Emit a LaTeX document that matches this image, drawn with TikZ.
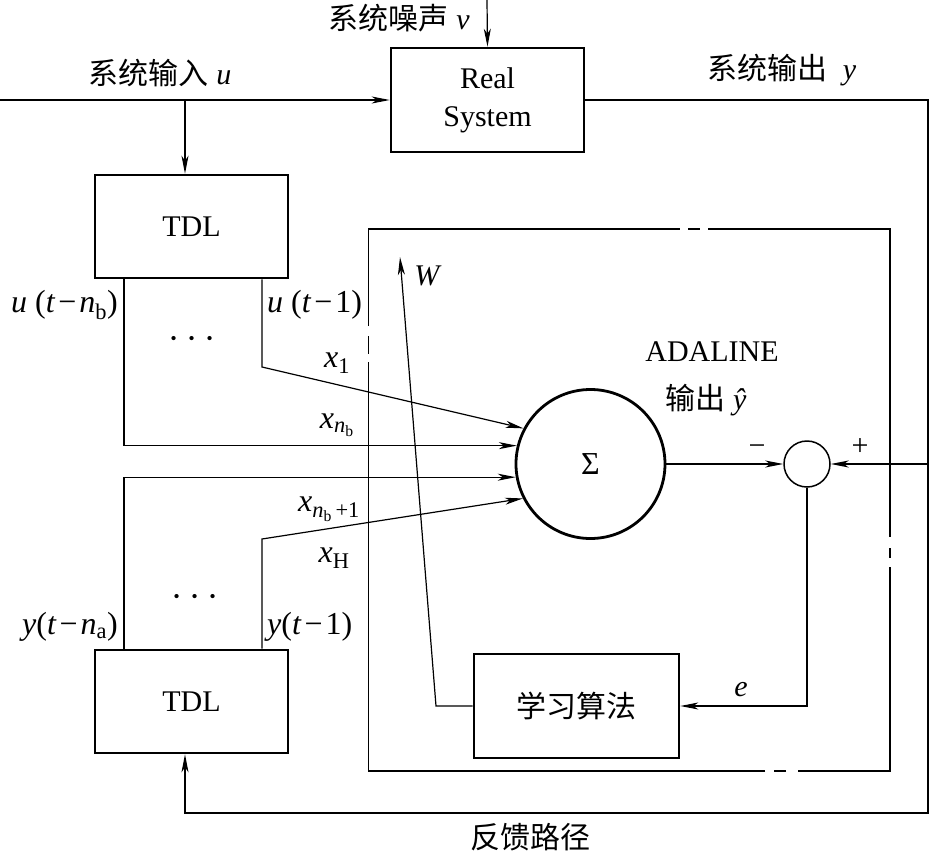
\documentclass[tikz,border=0pt]{standalone}
\usepackage{graphicx}
\usepackage{fontspec}
\setmainfont{Liberation Serif}
\newfontfamily\cjk{Noto Sans CJK SC}
\usetikzlibrary{arrows.meta}
\newcommand\cx[1]{{\cjk\fontsize{30}{34}\selectfont #1}}
\newcommand\mi[1]{\textit{#1}}
\newcommand\sub[1]{\textsubscript{#1}}
\newcommand\mminus{\kern3pt−\kern3pt}
\begin{document}
\begin{tikzpicture}[x=1pt,y=-1pt,
  lbl/.style={inner sep=0pt, font=\fontsize{30}{34}\selectfont},
  mlbl/.style={inner sep=0pt, font=\fontsize{32}{34}\selectfont},
  blk/.style={draw, line width=2.6pt, inner sep=0pt, font=\fontsize{30}{38}\selectfont, align=center},
  arr/.style={line width=1.2pt, -{Stealth[length=18pt,width=7pt,inset=5pt]}},
  frame/.style={line width=1.5pt}
]
\useasboundingbox (0,0) rectangle (930,852);

% blocks
\node[blk, minimum width=193pt, minimum height=104pt] (rs) at (487.5,100) {Real\\System};
\node[blk, minimum width=193pt, minimum height=103pt] (tdl1) at (191.5,226.5) {TDL};
\node[blk, minimum width=193pt, minimum height=103pt] (tdl2) at (191.5,701.5) {TDL};
\node[blk, minimum width=205pt, minimum height=104pt] (learn) at (576.5,706) {\cx{学习算法}};
\node[draw, circle, line width=2.8pt, minimum size=149pt, inner sep=0pt, font=\fontsize{32}{34}\selectfont] (sigma) at (590.5,464) {Σ};
\node[draw, circle, line width=1.5pt, minimum size=46pt, inner sep=0pt] (cmp) at (807,464) {};

% ADALINE frame (with small gaps)
\draw[frame] (368.5,326) -- (368.5,229) -- (680,229);
\draw[frame] (688,229) -- (700,229);
\draw[frame] (708,229) -- (890,229) -- (890,537);
\draw[frame] (890,548) -- (890,558);
\draw[frame] (890,567) -- (890,771) -- (798,771);
\draw[frame] (786,771) -- (774,771);
\draw[frame] (765,771) -- (368.5,771) -- (368.5,362);
\draw[frame] (368.5,336) -- (368.5,354);

% coordinates
\coordinate (inL) at (0,100);
\coordinate (br) at (185,100);
\coordinate (ntop) at (487,0);
\coordinate (oc1) at (928,100);
\coordinate (oc2) at (928,813);
\coordinate (oc3) at (185,813);
\coordinate (pf) at (928,464);
\coordinate (wc) at (436,706);
\coordinate (wtip) at (400,257);
\path (tdl1.south) ++(-67.5,0) coordinate (ub) ++(138,0) coordinate (u1);
\path (tdl2.north) ++(-67.5,0) coordinate (yb) ++(138,0) coordinate (y1);
\coordinate (k1) at (262,367);
\coordinate (k4) at (262,539);

% connectors
\draw[arr] (inL) -- (rs.west);
\draw[arr] (br) -- (br |- tdl1.north);
\draw[arr] (ntop) -- (rs.north);
\draw[arr] (rs.east) -- (oc1) -- (oc2) -- (oc3) -- (oc3 |- tdl2.south);
\draw[arr] (pf) -- (cmp.east);
\draw[arr] (sigma.east) -- (cmp.west);
\draw[arr] (cmp.south) |- (learn.east);
\draw[arr] (learn.west) -- (wc) -- (wtip);
\draw[arr] (ub) |- (sigma.166);
\draw[arr] (u1) -- (k1) -- (sigma.152);
\draw[arr] (yb) |- (sigma.190);
\draw[arr] (y1) -- (k4) -- (sigma.207);

% labels
\node[lbl] (lin) at (160,73) {\cx{系统输入} \mi{u}};
\node[lbl, anchor=east] (lnoise) at (470,18) {\cx{系统噪声} \mi{v}};
\node[lbl] (lout) at (782,70) {\cx{系统输出}\ \ \mi{y}};
\node[lbl] (lfb) at (530,837) {\cx{反馈路径}};
\node[mlbl, anchor=east] (lub) at (118,305) {\mi{u} (\mi{t}\mminus\mi{n}\sub{b})};
\node[mlbl, anchor=west] (lu1) at (267,305) {\mi{u} (\mi{t}\mminus 1)};
\node[lbl] (dots1) at (192,340) {\scalebox{1.6}{$\cdots$}};
\node[lbl] (dots2) at (195,598) {\scalebox{1.6}{$\cdots$}};
\node[mlbl] (lx1) at (337,363) {\mi{x}\sub{1}};
\node[mlbl] (lxnb) at (337,425) {\mi{x}\sub{\mi{n}\sub{b}}};
\node[mlbl] (lxnb1) at (329,509) {\mi{x}\sub{\mi{n}\sub{b}\,+1}};
\node[mlbl] (lxH) at (334,558) {\mi{x}\sub{H}};
\node[mlbl, anchor=east] (lyb) at (118,627) {\mi{y}(\mi{t}\mminus\mi{n}\sub{a})};
\node[mlbl, anchor=west] (ly1) at (267,627) {\mi{y}(\mi{t}\mminus 1)};
\node[lbl] (lW) at (428,276) {\mi{W}};
\node[lbl] (le) at (741,690) {\mi{e}};
\node[lbl] (lminus) at (757,450) {−};
\node[lbl] (lplus) at (860,447) {+};
\node[lbl] (ladal) at (712,352) {ADALINE};
\node[lbl] (lyhat) at (706,400) {\cx{输出} \mi{ŷ}};
\end{tikzpicture}
\end{document}
